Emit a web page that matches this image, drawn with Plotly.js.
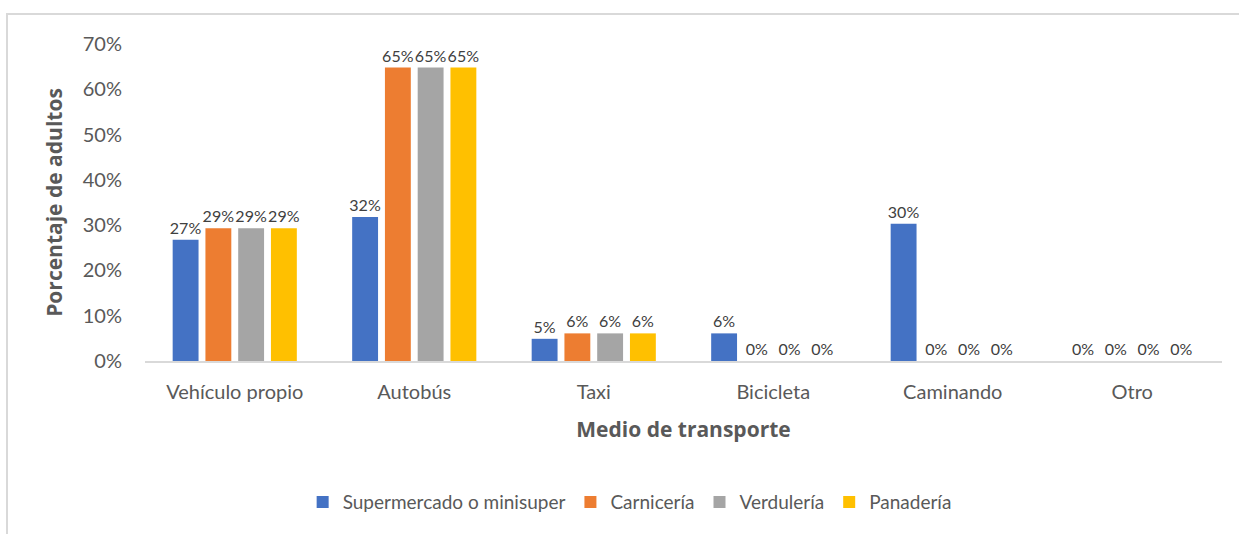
<!DOCTYPE html>
<html>
<head>
<meta charset="utf-8">
<script src="https://cdn.plot.ly/plotly-3.0.1.min.js"></script>
<style>
  html, body { margin: 0; padding: 0; background: #fff; }
  #frame { position: absolute; left: 6px; top: 13px; width: 1240px; height: 530px; border-left: 2px solid #d9d9d9; border-top: 2px solid #d9d9d9; box-sizing: border-box; }
  #chart { position: absolute; left: 0; top: 0; width: 1239px; height: 534px; }
</style>
</head>
<body>
<div id="frame"></div>
<div id="chart"></div>
<script>
const categories = ["Vehículo propio", "Autobús", "Taxi", "Bicicleta", "Caminando", "Otro"];
const seriesNames = ["Supermercado o minisuper", "Carnicería", "Verdulería", "Panadería"];
const supermercado = [0.268, 0.318, 0.049, 0.061, 0.303, 0];
const carniceria   = [0.293, 0.648, 0.061, 0, 0, 0];
const verduleria   = [0.293, 0.648, 0.061, 0, 0, 0];
const panaderia    = [0.293, 0.648, 0.061, 0, 0, 0];
const yTickVals = [0, 0.1, 0.2, 0.3, 0.4, 0.5, 0.6, 0.7];
const yTickText = ["0%", "10%", "20%", "30%", "40%", "50%", "60%", "70%"];

const colors = ["#4472C4", "#ED7D31", "#A5A5A5", "#FFC000"];
const allSeries = [supermercado, carniceria, verduleria, panaderia];

const traces = allSeries.map((vals, i) => ({
  type: "bar",
  name: seriesNames[i],
  x: categories,
  y: vals,
  marker: { color: colors[i], line: { width: 0 } },
  texttemplate: "%{y:.0%}",
  textposition: "outside",
  constraintext: "none",
  cliponaxis: false,
  textfont: { family: "Lato, 'Open Sans', sans-serif", size: 16, color: "#404040" },
  hoverinfo: "skip"
}));

const layout = {
  width: 1239,
  height: 534,
  margin: { l: 145, r: 17, t: 44, b: 173 },
  paper_bgcolor: "rgba(0,0,0,0)",
  plot_bgcolor: "rgba(0,0,0,0)",
  barmode: "group",
  bargap: 0.27,
  bargroupgap: 0.21,
  showlegend: true,
  font: { family: "Lato, 'Open Sans', sans-serif", color: "#595959" },
  xaxis: {
    type: "category",
    showline: true,
    linecolor: "#d9d9d9",
    linewidth: 2,
    ticks: "",
    showgrid: false,
    zeroline: false,
    ticklabelstandoff: 12,
    tickfont: { family: "Lato, 'Open Sans', sans-serif", size: 20, color: "#595959" },
    title: { text: "Medio de transporte", standoff: 20, font: { family: "'Open Sans', sans-serif", size: 21, color: "#595959", weight: "bold" } }
  },
  yaxis: {
    range: [0, 0.7],
    tickvals: yTickVals,
    ticktext: yTickText,
    showgrid: false,
    zeroline: false,
    showline: false,
    ticks: "",
    ticklabelstandoff: 22,
    tickfont: { family: "Lato, 'Open Sans', sans-serif", size: 20, color: "#595959" },
    title: { text: "Porcentaje de adultos", standoff: 14, font: { family: "'Open Sans', sans-serif", size: 21, color: "#595959", weight: "bold" } }
  },
  legend: {
    orientation: "h",
    x: 0.45,
    xanchor: "center",
    y: -0.445,
    yanchor: "middle",
    font: { family: "Lato, 'Open Sans', sans-serif", size: 19, color: "#595959" },
    itemwidth: 30,
    traceorder: "normal"
  }
};

Plotly.newPlot("chart", traces, layout, { staticPlot: true, displayModeBar: false });
</script>
</body>
</html>
